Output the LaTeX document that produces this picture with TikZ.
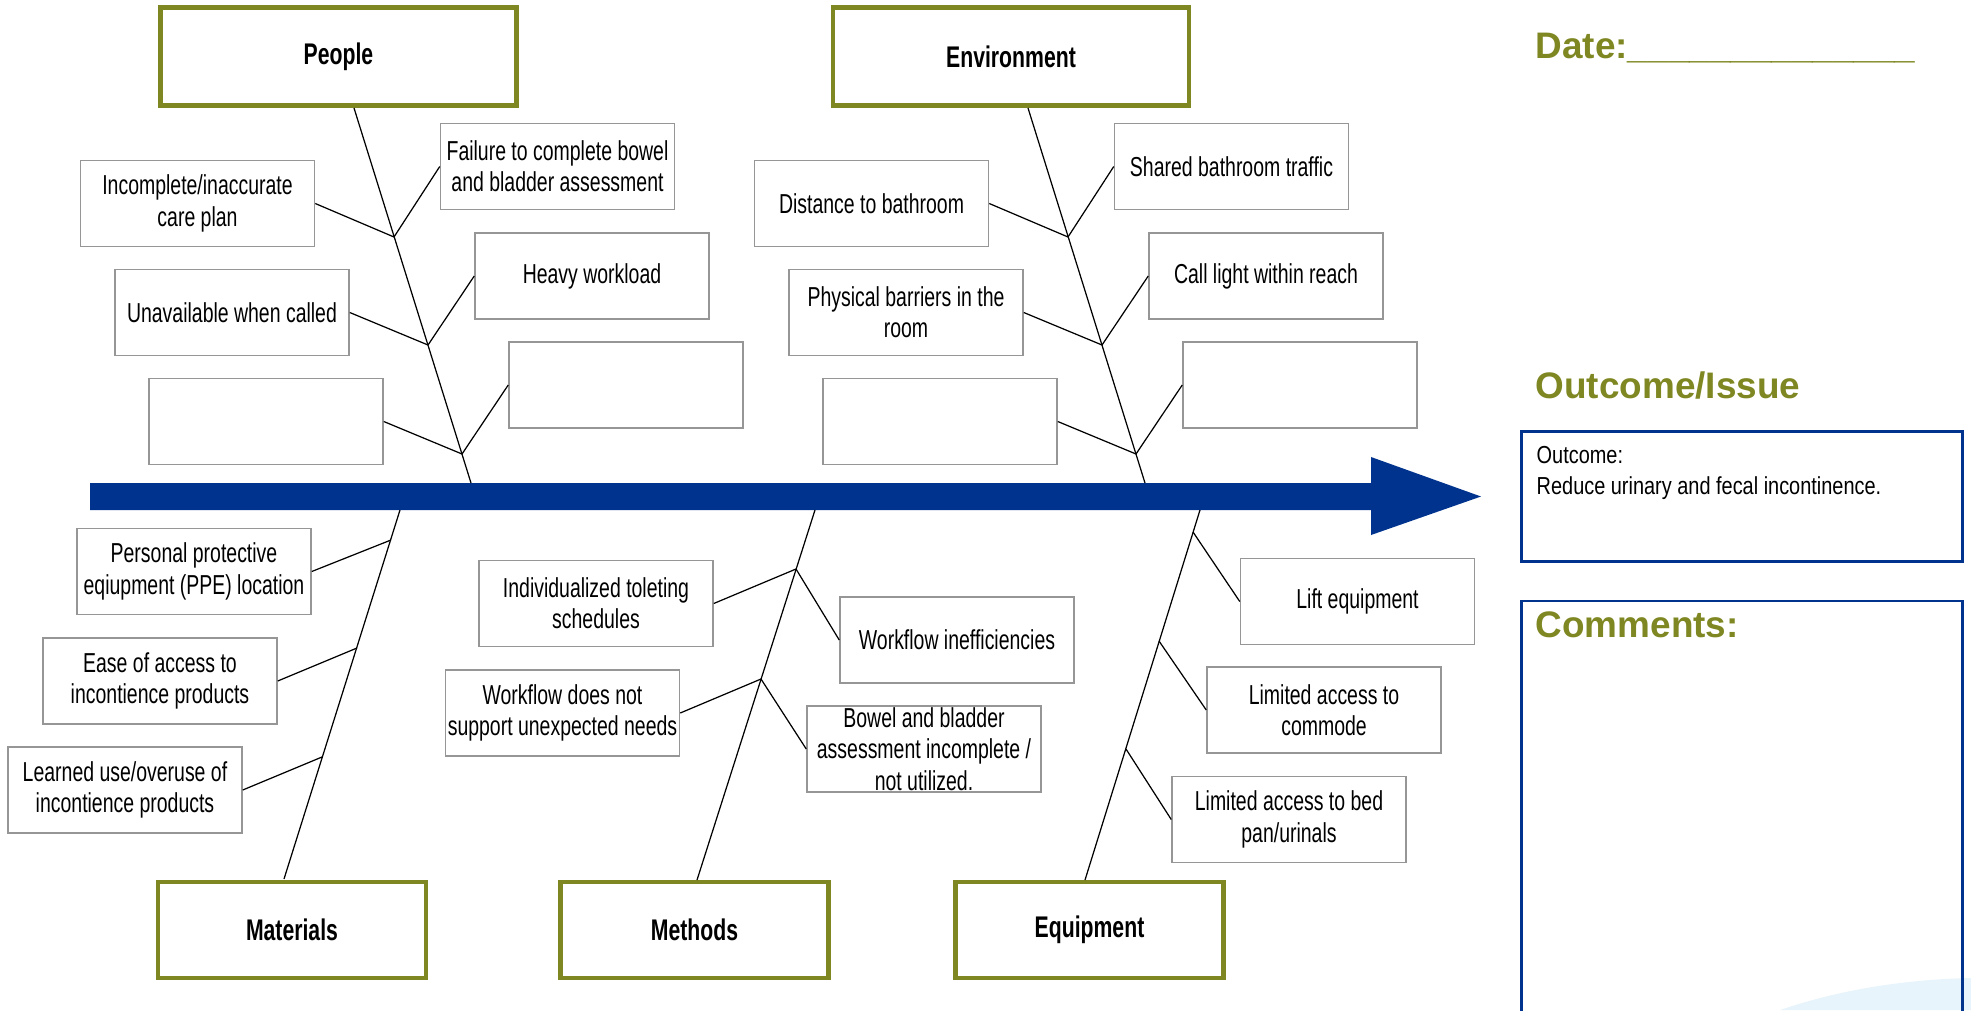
\documentclass[tikz,border=0pt]{standalone}
\usepackage{fontspec}
\setmainfont[FakeStretch=0.71]{Liberation Sans}
\newfontfamily\headfont{Liberation Sans}
\newfontfamily\outfont[FakeStretch=0.81]{Liberation Sans}
\usepackage{tikz}
\usetikzlibrary{positioning}
\definecolor{fishgreen}{RGB}{126,135,34}
\definecolor{fishblue}{RGB}{0,51,141}
\definecolor{boxgray}{RGB}{150,150,150}
\definecolor{swooshblue}{RGB}{232,244,251}

\begin{document}
\begin{tikzpicture}[font=\fontsize{7.8pt}{8.9pt}\selectfont,
		category/.style={draw=fishgreen, line width=1.28pt, rectangle, minimum height=0.98cm, font=\fontsize{8.5pt}{10pt}\selectfont\bfseries},
		cause/.style={draw=boxgray, line width=0.43pt, rectangle, align=center, minimum width=2.34cm, minimum height=0.86cm, inner sep=0.5pt},
		bone/.style={draw, line width=0.35pt},
		heading/.style={anchor=base west, inner sep=0pt, text=fishgreen, font=\headfont\fontsize{10.5pt}{12pt}\selectfont\bfseries},
		panel/.style={draw=fishblue, line width=0.85pt, rectangle, minimum width=4.41cm}]
		\useasboundingbox (0, 0) rectangle (19.71, -10.10);
		\clip (0, 0) rectangle (19.71, -10.10);
		\fill[swooshblue] (17.8, -10.10) .. controls (18.5, -9.86) and (19.2, -9.79) .. (19.71, -9.78) -- (19.71, -10.10) -- cycle;
		\fill[fishblue] (0.90, -4.83) -- (13.71, -4.83) -- (13.71, -4.57) -- (14.81, -4.965) -- (13.71, -5.35) -- (13.71, -5.10) -- (0.90, -5.10) -- cycle;
		\node[category, minimum width=3.56cm] (people) at (3.385, -0.565) {People};
		\node[category, minimum width=3.56cm] (environment) at (10.11, -0.565) {Environment};
		\node[category, minimum width=2.68cm, minimum height=0.96cm] (materials) at (2.92, -9.30) {Materials};
		\node[category, minimum width=2.68cm, minimum height=0.96cm] (methods) at (6.945, -9.30) {Methods};
		\node[category, minimum width=2.68cm, minimum height=0.96cm] (equipment) at (10.895, -9.30) {Equipment};
		\coordinate (people-top) at (3.54, -1.08);
		\coordinate (people-root) at (4.71, -4.83);
		\coordinate (env-top) at (10.28, -1.08);
		\coordinate (env-root) at (11.45, -4.83);
		\coordinate (materials-root) at (4.00, -5.10);
		\coordinate (materials-end) at (2.84, -8.79);
		\coordinate (methods-root) at (8.15, -5.10);
		\coordinate (methods-end) at (6.97, -8.80);
		\coordinate (equipment-root) at (12.00, -5.10);
		\coordinate (equipment-end) at (10.85, -8.80);
		\coordinate (pj1) at (3.94, -2.37);
		\coordinate (pj2) at (4.28, -3.45);
		\coordinate (pj3) at (4.62, -4.54);
		\coordinate (ej1) at (10.68, -2.37);
		\coordinate (ej2) at (11.02, -3.45);
		\coordinate (ej3) at (11.36, -4.54);
		\coordinate (mj1) at (3.91, -5.40);
		\coordinate (mj2) at (3.57, -6.48);
		\coordinate (mj3) at (3.22, -7.57);
		\coordinate (tj1) at (7.96, -5.69);
		\coordinate (tj2) at (7.61, -6.79);
		\coordinate (qj1) at (11.93, -5.32);
		\coordinate (qj2) at (11.59, -6.41);
		\coordinate (qj3) at (11.26, -7.49);
		\node[cause] (fail-assess) at (5.575, -1.665) {Failure to complete bowel\\and bladder assessment};
		\node[cause] (care-plan) at (1.975, -2.035) {Incomplete/inaccurate\\care plan};
		\node[cause] (workload) at (5.92, -2.76) {Heavy workload};
		\node[cause] (unavailable) at (2.32, -3.125) {Unavailable when called};
		\node[cause] (people-blank-r) at (6.26, -3.85) {};
		\node[cause] (people-blank-l) at (2.66, -4.215) {};
		\node[cause] (shared-traffic) at (12.315, -1.665) {Shared bathroom traffic};
		\node[cause] (distance) at (8.715, -2.035) {Distance to bathroom};
		\node[cause] (call-light) at (12.66, -2.76) {Call light within reach};
		\node[cause] (barriers) at (9.06, -3.125) {Physical barriers in the\\room};
		\node[cause] (env-blank-r) at (13.00, -3.85) {};
		\node[cause] (env-blank-l) at (9.40, -4.215) {};
		\node[cause] (ppe) at (1.94, -5.715) {Personal protective\\eqiupment (PPE) location};
		\node[cause] (ease) at (1.60, -6.81) {Ease of access to\\incontience products};
		\node[cause] (learned) at (1.25, -7.90) {Learned use/overuse of\\incontience products};
		\node[cause] (toileting) at (5.96, -6.035) {Individualized toleting\\schedules};
		\node[cause] (workflow-needs) at (5.625, -7.13) {Workflow does not\\support unexpected needs};
		\node[cause] (inefficiencies) at (9.57, -6.40) {Workflow inefficiencies};
		\node[cause] (bowel) at (9.24, -7.49) {Bowel and bladder\\assessment incomplete /\\not utilized.};
		\node[cause] (lift) at (13.575, -6.015) {Lift equipment};
		\node[cause] (commode) at (13.24, -7.10) {Limited access to\\commode};
		\node[cause] (bedpan) at (12.89, -8.195) {Limited access to bed\\pan/urinals};
		\path [bone] (people-top) -- (people-root);
		\path [bone] (env-top) -- (env-root);
		\path [bone] (materials-root) -- (materials-end);
		\path [bone] (methods-root) -- (methods-end);
		\path [bone] (equipment-root) -- (equipment-end);
		\path [bone] (care-plan.east) -- (pj1) -- (fail-assess.west);
		\path [bone] (unavailable.east) -- (pj2) -- (workload.west);
		\path [bone] (people-blank-l.east) -- (pj3) -- (people-blank-r.west);
		\path [bone] (distance.east) -- (ej1) -- (shared-traffic.west);
		\path [bone] (barriers.east) -- (ej2) -- (call-light.west);
		\path [bone] (env-blank-l.east) -- (ej3) -- (env-blank-r.west);
		\path [bone] (ppe.east) -- (mj1);
		\path [bone] (ease.east) -- (mj2);
		\path [bone] (learned.east) -- (mj3);
		\path [bone] (toileting.east) -- (tj1) -- (inefficiencies.west);
		\path [bone] (workflow-needs.east) -- (tj2) -- (bowel.west);
		\path [bone] (qj1) -- (lift.west);
		\path [bone] (qj2) -- (commode.west);
		\path [bone] (qj3) -- (bedpan.west);
		\node[heading] (date) at (15.35, -0.58) {Date:\_\_\_\_\_\_\_\_\_\_\_\_\_\_};
		\node[heading] (issue) at (15.35, -3.98) {Outcome/Issue};
		\node[panel, minimum height=1.30cm] (outcome) at (17.42, -4.965) {};
		\node[anchor=north west, align=left, inner sep=0pt, font=\outfont\fontsize{7.0pt}{8.7pt}\selectfont, below right = 0.16cm and 0.16cm of outcome.north west] (outcome-text) {Outcome:\\Reduce urinary and fecal incontinence.};
		\node[panel, minimum height=4.3cm, anchor=north] (comments) at (17.415, -5.995) {};
		\node[heading] (comments-title) at (15.35, -6.37) {Comments:};
	\end{tikzpicture}
\end{document}
